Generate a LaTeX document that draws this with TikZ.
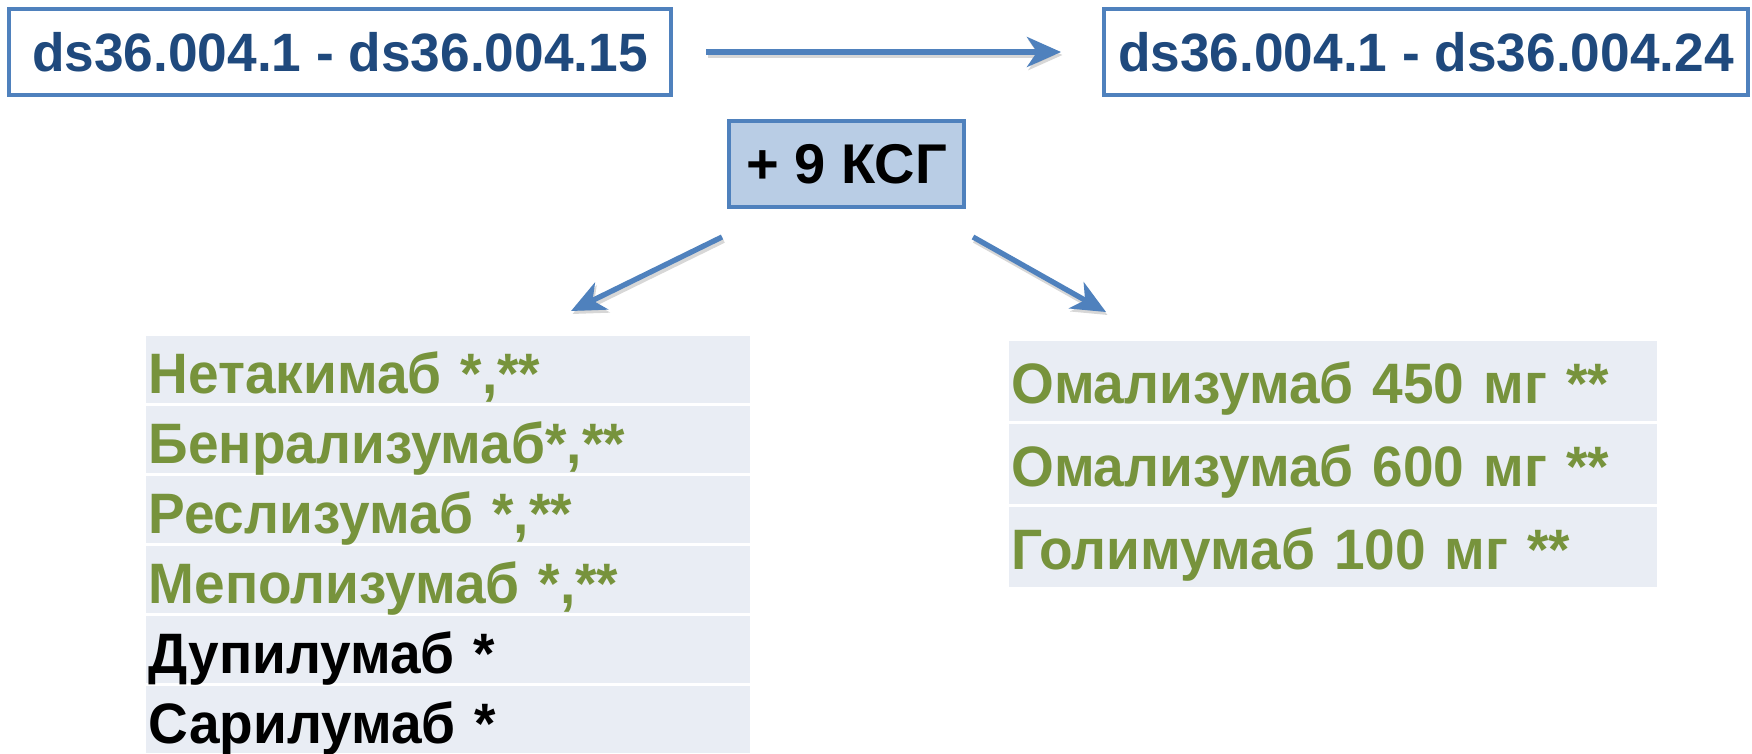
\documentclass[tikz,border=0pt]{standalone}
\usepackage{fontspec}
\setmainfont{Liberation Sans}
\newfontfamily\tablefont[FakeStretch=0.965]{Liberation Sans}
\newfontfamily\codefont[FakeStretch=0.986]{Liberation Sans}
\usetikzlibrary{arrows.meta}
\definecolor{boxblue}{HTML}{4F81BD}
\definecolor{darkblue}{HTML}{1F497D}
\definecolor{fillblue}{HTML}{B9CDE5}
\definecolor{rowfill}{HTML}{E9EDF4}
\definecolor{drggreen}{HTML}{77933C}
\tikzset{
  codebox/.style={draw=boxblue, line width=4pt, fill=white, minimum width=#1, minimum height=86pt,
    inner sep=0pt, text=darkblue, font=\codefont\fontsize{54}{60}\selectfont\bfseries},
  addbox/.style={draw=boxblue, line width=4pt, fill=fillblue, minimum width=235pt, minimum height=86pt,
    inner sep=0pt, text=black, font=\fontsize{56}{60}\selectfont\bfseries},
  lrow/.style={fill=rowfill, anchor=north west, inner xsep=2.5pt, inner ysep=0pt,
    text width=599pt, align=left, text height=57pt, text depth=10pt,
    font=\tablefont\fontsize{57}{60}\selectfont\bfseries, text=drggreen},
  rrow/.style={fill=rowfill, anchor=north west, inner xsep=2pt, inner ysep=0pt,
    text width=644pt, align=left, text height=62pt, text depth=18pt,
    font=\tablefont\fontsize{57}{60}\selectfont\bfseries, text=drggreen},
  conn/.style={draw=boxblue, line width=5.3pt,
    -{Stealth[length=34pt, width=30pt, inset=10pt]}},
  connshadow/.style={draw=black!45, opacity=0.35, line width=6pt,
    -{Stealth[length=34pt, width=30pt, inset=10pt]}}
}
\begin{document}
\begin{tikzpicture}[x=1pt,y=-1pt]
\useasboundingbox (0,0) rectangle (1752,754);
% top boxes
\node[codebox=662pt] (old) at (340,52) {ds36.004.1 - ds36.004.15};
\node[codebox=644pt] (new) at (1426,52) {ds36.004.1 - ds36.004.24};
\node[addbox] (add) at (846.5,164) {+ 9 КСГ};
% arrow endpoints
\coordinate (a1s) at (706,52);
\coordinate (a1e) at (1061,52);
\coordinate (a2s) at (722,237);
\coordinate (a2e) at (571,311);
\coordinate (a3s) at (973,237);
\coordinate (a3e) at (1106,312);
\foreach \s/\e in {a1s/a1e,a2s/a2e,a3s/a3e}{
  \draw[connshadow, transform canvas={shift={(1.5pt,-3pt)}}] (\s) -- (\e);
  \draw[conn] (\s) -- (\e);
}
% left table
\node[lrow] (l1) at (146,336) {Нетакимаб *,**};
\node[lrow] (l2) at (146,406) {Бенрализумаб*,**};
\node[lrow] (l3) at (146,476) {Реслизумаб *,**};
\node[lrow] (l4) at (146,546) {Меполизумаб *,**};
\node[lrow, text=black] (l5) at (146,616) {Дупилумаб *};
\node[lrow, text=black] (l6) at (146,686) {Сарилумаб *};
% right table
\node[rrow] (r1) at (1009,341) {Омализумаб 450 мг **};
\node[rrow] (r2) at (1009,424) {Омализумаб 600 мг **};
\node[rrow] (r3) at (1009,507) {Голимумаб 100 мг **};
\end{tikzpicture}
\end{document}
